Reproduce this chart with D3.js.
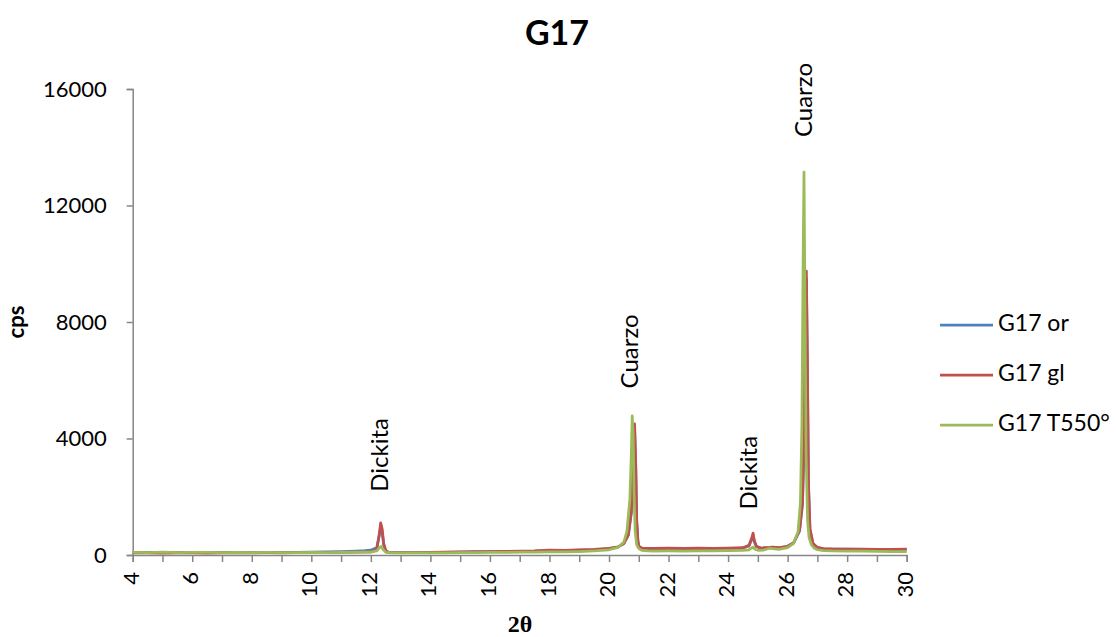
<!DOCTYPE html>
<html>
<head>
<meta charset="utf-8">
<script src="https://cdn.jsdelivr.net/npm/d3@7"></script>
<style>
  html, body { margin: 0; padding: 0; background: #fff; }
  svg { display: block; }
  text { font-family: Lato, "Open Sans", sans-serif; fill: #000; }
</style>
</head>
<body>
<svg id="chart" width="1116" height="637"></svg>
<script>
// ---- Data ----
const seriesNames = ["G17 or", "G17 gl", "G17 T550°"];
const seriesColors = ["#4F81BD", "#C0504D", "#9BBB59"];

const xTicks = [4, 6, 8, 10, 12, 14, 16, 18, 20, 22, 24, 26, 28, 30];
const yTicks = [0, 4000, 8000, 12000, 16000];

// G17 or  [2θ, cps]
const g17or = [
  [4,85],[4.5,80],[5,88],[5.5,78],[6,84],[6.5,80],[7,86],[7.5,82],[8,80],[8.5,85],
  [9,88],[9.5,90],[10,95],[10.5,105],[11,115],[11.5,135],[11.8,150],[12.0,165],[12.2,260],
  [12.28,650],[12.33,950],[12.38,800],[12.43,350],[12.5,140],[12.6,90],[13,80],[13.5,82],
  [14,88],[14.5,92],[15,100],[15.5,115],[16,120],[16.5,118],[17,125],[17.5,130],[18,150],
  [18.5,150],[19,165],[19.5,180],[20,215],[20.3,270],[20.5,390],[20.65,680],[20.75,1450],
  [20.82,3100],[20.86,4300],[20.9,2900],[20.93,1150],[20.97,480],[21,290],[21.1,230],
  [21.5,220],[22,225],[22.5,218],[23,230],[23.5,222],[24,228],[24.5,240],[24.7,310],
  [24.8,540],[24.84,680],[24.88,460],[24.95,290],[25.1,230],[25.4,250],[25.5,262],
  [25.7,240],[26,290],[26.2,410],[26.4,820],[26.5,1750],[26.56,4300],[26.6,8200],
  [26.63,9500],[26.66,6800],[26.7,2400],[26.75,880],[26.85,390],[27,250],[27.2,212],
  [27.5,205],[28,198],[28.5,195],[29,190],[29.5,186],[30,195]
];

// G17 gl  [2θ, cps]
const g17gl = [
  [4,70],[4.5,75],[5,65],[5.5,72],[6,70],[6.5,68],[7,75],[7.5,70],[8,72],[8.5,78],
  [9,75],[9.5,80],[10,82],[10.5,85],[11,90],[11.5,95],[12,110],[12.2,200],[12.28,700],
  [12.33,1100],[12.38,900],[12.43,400],[12.5,150],[12.6,90],[13,80],[13.5,85],[14,90],
  [14.5,95],[15,105],[15.5,110],[16,120],[16.5,125],[17,130],[17.5,140],[18,170],
  [18.5,160],[19,175],[19.5,190],[20,230],[20.3,280],[20.5,400],[20.65,700],[20.75,1500],
  [20.82,3200],[20.86,4500],[20.9,3000],[20.93,1200],[20.97,500],[21,300],[21.1,240],
  [21.5,230],[22,235],[22.5,225],[23,240],[23.5,230],[24,235],[24.5,250],[24.7,330],
  [24.8,600],[24.84,750],[24.88,500],[24.95,300],[25.1,240],[25.4,260],[25.5,270],
  [25.7,250],[26,300],[26.2,420],[26.4,850],[26.5,1800],[26.56,4500],[26.6,8500],
  [26.63,9750],[26.66,7000],[26.7,2500],[26.75,900],[26.85,400],[27,260],[27.2,220],
  [27.5,210],[28,205],[28.5,200],[29,195],[29.5,190],[30,200]
];

// G17 T550°  [2θ, cps]
const g17t550 = [
  [4,90],[4.5,85],[5,95],[5.5,80],[6,88],[6.5,92],[7,85],[7.5,90],[8,82],[8.5,88],
  [9,85],[9.5,80],[10,90],[10.5,85],[11,88],[11.5,95],[12,100],[12.2,140],[12.3,260],
  [12.35,300],[12.4,200],[12.5,90],[12.7,70],[13,75],[13.5,70],[14,75],[14.5,72],
  [15,80],[15.5,85],[16,90],[16.5,88],[17,95],[17.5,100],[18,105],[18.5,110],[19,120],
  [19.5,140],[20,180],[20.3,260],[20.5,450],[20.6,800],[20.7,1900],[20.75,3500],
  [20.78,4780],[20.81,4200],[20.84,2200],[20.88,800],[20.93,350],[21,220],[21.1,160],
  [21.3,140],[21.5,135],[22,140],[22.5,135],[23,145],[23.5,140],[24,150],[24.5,160],
  [24.7,180],[24.8,250],[24.85,270],[24.9,200],[25,160],[25.2,170],[25.4,230],[25.5,220],
  [25.7,190],[26,250],[26.2,400],[26.35,800],[26.43,1800],[26.48,4500],[26.52,10000],
  [26.55,13150],[26.58,9000],[26.62,3500],[26.67,1200],[26.72,600],[26.8,350],[26.9,230],
  [27,180],[27.2,150],[27.5,140],[28,135],[28.5,130],[29,125],[29.5,120],[30,115]
];

const seriesData = [g17or, g17gl, g17t550];

// Peak annotations
const annLabels = ["Dickita", "Cuarzo", "Dickita", "Cuarzo"];
const annX = [12.36, 20.78, 24.76, 26.6];
const annY = [2170, 5720, 1560, 14350];

// ---- Layout ----
const plot = { left: 132.7, right: 906.7, top: 89, bottom: 555 };
const svg = d3.select("#chart");
const x = d3.scaleLinear().domain([4, 30]).range([plot.left, plot.right]);
const y = d3.scaleLinear().domain([0, 16000]).range([plot.bottom, plot.top]);
const axisColor = "#868686";

// Title
svg.append("text").attr("x", 557).attr("y", 45).attr("text-anchor", "middle")
  .style("font-size", "34px").style("font-weight", "bold").text("G17");

// Y axis
const yAxis = svg.append("g").attr("transform", `translate(${plot.left},0)`)
  .call(d3.axisLeft(y).tickValues(yTicks).tickFormat(d3.format("d")).tickSize(6).tickPadding(20));
yAxis.select(".domain").attr("stroke", axisColor).attr("stroke-width", 1.5);
yAxis.selectAll(".tick line").attr("stroke", axisColor).attr("stroke-width", 1.5);
yAxis.selectAll(".tick text").style("font-size", "22px").style("font-family", "Lato, sans-serif");

// X axis (minor ticks every 1, labels every 2)
const xAxis = svg.append("g").attr("transform", `translate(0,${plot.bottom})`)
  .call(d3.axisBottom(x).tickValues(d3.range(4, 31, 1)).tickSize(7)
    .tickFormat(d => xTicks.includes(d) ? d : ""));
xAxis.select(".domain").attr("stroke", axisColor).attr("stroke-width", 1.5);
xAxis.selectAll(".tick line").attr("stroke", axisColor).attr("stroke-width", 1.5);
xAxis.selectAll(".tick text")
  .style("font-size", "22px").style("font-family", "Lato, sans-serif")
  .attr("transform", "rotate(-90)")
  .attr("text-anchor", "end").attr("dominant-baseline", "middle")
  .attr("x", -17).attr("y", 0).attr("dy", null);

// Axis titles
svg.append("text").attr("transform", "translate(24,322) rotate(-90)")
  .attr("text-anchor", "middle").style("font-size", "22px").style("font-weight", "bold").text("cps");
svg.append("text").attr("x", 520).attr("y", 632).attr("text-anchor", "middle")
  .style("font-family", "'Liberation Serif', 'DejaVu Serif', serif")
  .style("font-size", "24px").style("font-weight", "bold").text("2θ");

// Series lines
const line = d3.line().x(d => x(d[0])).y(d => y(d[1]));
const gLines = svg.append("g");
seriesData.forEach((s, i) => {
  gLines.append("path").datum(s).attr("d", line)
    .attr("fill", "none").attr("stroke", seriesColors[i])
    .attr("stroke-width", 2.75).attr("stroke-linejoin", "round");
});

// Annotations
annLabels.forEach((t, i) => {
  svg.append("text")
    .attr("transform", `translate(${x(annX[i])},${y(annY[i])}) rotate(-90)`)
    .attr("text-anchor", "start").attr("dominant-baseline", "middle")
    .style("font-size", "24px").text(t);
});

// Legend
const legend = svg.append("g");
const legY = [325, 375, 425];
seriesNames.forEach((n, i) => {
  legend.append("line").attr("x1", 940).attr("x2", 993)
    .attr("y1", legY[i]).attr("y2", legY[i])
    .attr("stroke", seriesColors[i]).attr("stroke-width", 2.75);
  legend.append("text").attr("x", 998).attr("y", legY[i])
    .attr("dominant-baseline", "middle").style("font-size", "23px").text(n);
});
</script>
</body>
</html>
